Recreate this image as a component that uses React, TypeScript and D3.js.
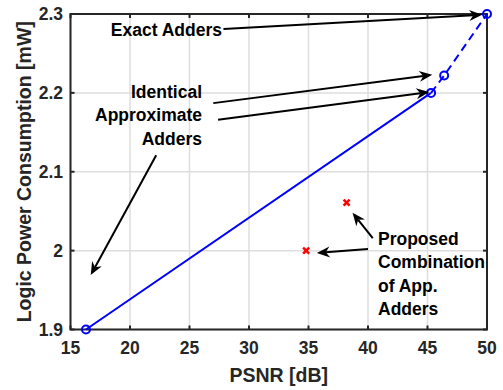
import React, { useEffect, useRef } from 'react';
import * as d3 from 'd3';

// chart values
const xTicks = [15, 20, 25, 30, 35, 40, 45, 50];
const yTicks = [1.9, 2.0, 2.1, 2.2, 2.3];
const approxPsnr = [16.3, 45.3];
const approxPower = [1.9, 2.2];
const exactPsnr = [45.3, 46.4, 50];
const exactPower = [2.2, 2.222, 2.3];
const proposedPsnr = [38.2, 34.8];
const proposedPower = [2.061, 2.0];

// annotation arrows: [fromX, fromY, toX, toY] in data units
const arrows = [
  [27.85, 2.281, 49.6, 2.299],
  [27.0, 2.187, 45.4, 2.223],
  [27.4, 2.166, 45.15, 2.201],
  [22.2, 2.121, 16.7, 1.969],
  [40.4, 2.016, 38.7, 2.048],
  [40.0, 2.002, 35.7, 1.997],
];
const exactLabel = ['Exact Adders'];
const identicalLabel = ['Identical', 'Approximate', 'Adders'];
const proposedLabel = ['Proposed', 'Combination', 'of App.', 'Adders'];

const App = () => {
  const svgRef = useRef<SVGSVGElement>(null);

  useEffect(() => {
    const svg = d3.select(svgRef.current);
    svg.selectAll('*').remove();

    const left = 70.5, right = 487, top = 14, bottom = 329.5;
    const x = d3.scaleLinear().domain([15, 50]).range([left, right]);
    const y = d3.scaleLinear().domain([1.9, 2.3]).range([bottom, top]);
    const font = '"Liberation Sans", Arial, sans-serif';
    const ink = '#262626';

    // grid
    const grid = svg.append('g').attr('stroke', '#dedede').attr('stroke-width', 1.5);
    xTicks.forEach(t => grid.append('line').attr('x1', x(t)).attr('x2', x(t)).attr('y1', top).attr('y2', bottom));
    yTicks.forEach(t => grid.append('line').attr('x1', left).attr('x2', right).attr('y1', y(t)).attr('y2', y(t)));

    // box with inner ticks on all sides
    const axes = svg.append('g').attr('stroke', ink).attr('stroke-width', 2).attr('fill', 'none');
    axes.append('rect').attr('x', left).attr('y', top).attr('width', right - left).attr('height', bottom - top);
    xTicks.forEach(t => {
      axes.append('line').attr('x1', x(t)).attr('x2', x(t)).attr('y1', bottom).attr('y2', bottom - 4);
      axes.append('line').attr('x1', x(t)).attr('x2', x(t)).attr('y1', top).attr('y2', top + 4);
    });
    yTicks.forEach(t => {
      axes.append('line').attr('x1', left).attr('x2', left + 4).attr('y1', y(t)).attr('y2', y(t));
      axes.append('line').attr('x1', right).attr('x2', right - 4).attr('y1', y(t)).attr('y2', y(t));
    });

    // tick labels
    const labels = svg.append('g').attr('font-family', font).attr('font-weight', 'bold')
      .attr('font-size', 17.5).attr('fill', ink);
    xTicks.forEach(t => labels.append('text').attr('x', x(t)).attr('y', 354)
      .attr('text-anchor', 'middle').text(d3.format('d')(t)));
    yTicks.forEach(t => labels.append('text').attr('x', 63).attr('y', y(t) + 6)
      .attr('text-anchor', 'end').text(d3.format('~g')(t)));

    labels.append('text').attr('x', (left + right) / 2).attr('y', 382).attr('font-size', 19.5)
      .attr('text-anchor', 'middle').text('PSNR [dB]');
    labels.append('text').attr('transform', `translate(31,${(top + bottom) / 2}) rotate(-90)`)
      .attr('font-size', 19.5).attr('text-anchor', 'middle').text('Logic Power Consumption [mW]');

    // blue series
    const line = d3.line<number>().x(d => x(d[0])).y(d => y(d[1]));
    const approx = approxPsnr.map((v, i) => [v, approxPower[i]]);
    const exact = exactPsnr.map((v, i) => [v, exactPower[i]]);
    svg.append('path').attr('d', line(approx as any)).attr('stroke', '#0000ff')
      .attr('stroke-width', 2).attr('fill', 'none');
    svg.append('path').attr('d', line(exact as any)).attr('stroke', '#0000ff')
      .attr('stroke-width', 2).attr('stroke-dasharray', '8,5').attr('fill', 'none');
    [...approx, ...exact.slice(1)].forEach(d => svg.append('circle')
      .attr('cx', x(d[0])).attr('cy', y(d[1])).attr('r', 4)
      .attr('stroke', '#0000ff').attr('stroke-width', 2).attr('fill', 'none'));

    // proposed points
    proposedPsnr.forEach((v, i) => {
      const cx = x(v), cy = y(proposedPower[i]), s = 3;
      svg.append('path').attr('d', `M${cx - s},${cy - s}L${cx + s},${cy + s}M${cx - s},${cy + s}L${cx + s},${cy - s}`)
        .attr('stroke', '#ff0000').attr('stroke-width', 2.5);
    });

    // arrows
    const ag = svg.append('g');
    arrows.forEach(([x1, y1, x2, y2]) => {
      const ax = x(x1), ay = y(y1), bx = x(x2), by = y(y2);
      const ang = Math.atan2(by - ay, bx - ax);
      const len = 13, wid = 5.5, back = 9;
      const ux = Math.cos(ang), uy = Math.sin(ang);
      const px = -uy, py = ux;
      const bxBack = bx - ux * back, byBack = by - uy * back;
      ag.append('line').attr('x1', ax).attr('y1', ay).attr('x2', bxBack).attr('y2', byBack)
        .attr('stroke', '#000').attr('stroke-width', 2);
      ag.append('path')
        .attr('d', `M${bx},${by}L${bx - ux * len + px * wid},${by - uy * len + py * wid}L${bxBack},${byBack}L${bx - ux * len - px * wid},${by - uy * len - py * wid}Z`)
        .attr('fill', '#000');
    });

    // annotation texts
    const notes = svg.append('g').attr('font-family', font).attr('font-weight', 'bold')
      .attr('font-size', 17.5).attr('fill', '#000');
    exactLabel.forEach(t => notes.append('text').attr('x', 222).attr('y', 36)
      .attr('text-anchor', 'end').text(t));
    identicalLabel.forEach((t, i) => notes.append('text').attr('x', 202).attr('y', 97.5 + i * 23.6)
      .attr('text-anchor', 'end').text(t));
    proposedLabel.forEach((t, i) => notes.append('text').attr('x', 378).attr('y', 245 + i * 23.4)
      .text(t));
  }, []);

  return (
    <svg ref={svgRef} width={503} height={390}
      style={{ position: 'absolute', left: 0, top: 0, background: '#fff' }} />
  );
};

export default App;
